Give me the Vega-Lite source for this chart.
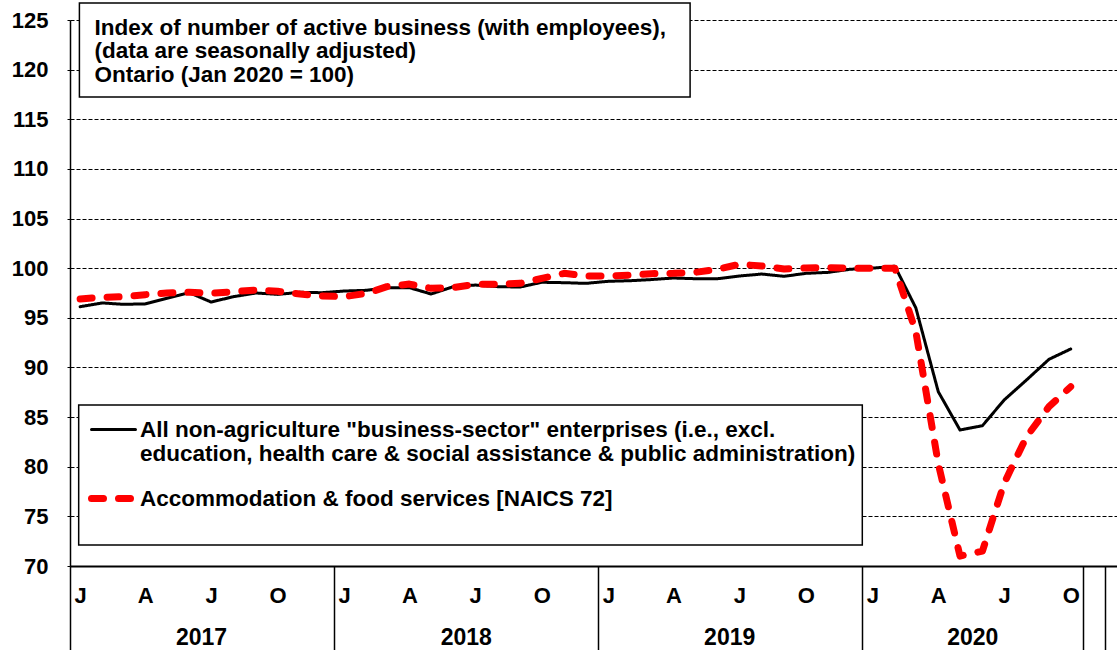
{
  "$schema": "https://vega.github.io/schema/vega-lite/v6.json",
  "width": 1047,
  "height": 546,
  "autosize": {"type": "none"},
  "padding": {"left": 70, "top": 20, "right": 0, "bottom": 84},
  "background": "white",
  "config": {
    "view": {"stroke": null},
    "font": "Liberation Sans",
    "axis": {"labelFont": "Liberation Sans", "labelFontWeight": "bold", "labelColor": "black", "title": null}
  },
  "data": {"values": [
    {"date": "2017-01-15", "series": "All non-agriculture \"business-sector\" enterprises (i.e., excl. education, health care & social assistance & public administration)", "value": 96.12},
    {"date": "2017-02-15", "series": "All non-agriculture \"business-sector\" enterprises (i.e., excl. education, health care & social assistance & public administration)", "value": 96.5},
    {"date": "2017-03-15", "series": "All non-agriculture \"business-sector\" enterprises (i.e., excl. education, health care & social assistance & public administration)", "value": 96.36},
    {"date": "2017-04-15", "series": "All non-agriculture \"business-sector\" enterprises (i.e., excl. education, health care & social assistance & public administration)", "value": 96.4},
    {"date": "2017-05-15", "series": "All non-agriculture \"business-sector\" enterprises (i.e., excl. education, health care & social assistance & public administration)", "value": 96.97},
    {"date": "2017-06-15", "series": "All non-agriculture \"business-sector\" enterprises (i.e., excl. education, health care & social assistance & public administration)", "value": 97.53},
    {"date": "2017-07-15", "series": "All non-agriculture \"business-sector\" enterprises (i.e., excl. education, health care & social assistance & public administration)", "value": 96.59},
    {"date": "2017-08-15", "series": "All non-agriculture \"business-sector\" enterprises (i.e., excl. education, health care & social assistance & public administration)", "value": 97.13},
    {"date": "2017-09-15", "series": "All non-agriculture \"business-sector\" enterprises (i.e., excl. education, health care & social assistance & public administration)", "value": 97.5},
    {"date": "2017-10-15", "series": "All non-agriculture \"business-sector\" enterprises (i.e., excl. education, health care & social assistance & public administration)", "value": 97.36},
    {"date": "2017-11-15", "series": "All non-agriculture \"business-sector\" enterprises (i.e., excl. education, health care & social assistance & public administration)", "value": 97.57},
    {"date": "2017-12-15", "series": "All non-agriculture \"business-sector\" enterprises (i.e., excl. education, health care & social assistance & public administration)", "value": 97.53},
    {"date": "2018-01-15", "series": "All non-agriculture \"business-sector\" enterprises (i.e., excl. education, health care & social assistance & public administration)", "value": 97.7},
    {"date": "2018-02-15", "series": "All non-agriculture \"business-sector\" enterprises (i.e., excl. education, health care & social assistance & public administration)", "value": 97.77},
    {"date": "2018-03-15", "series": "All non-agriculture \"business-sector\" enterprises (i.e., excl. education, health care & social assistance & public administration)", "value": 98.04},
    {"date": "2018-04-15", "series": "All non-agriculture \"business-sector\" enterprises (i.e., excl. education, health care & social assistance & public administration)", "value": 98.04},
    {"date": "2018-05-15", "series": "All non-agriculture \"business-sector\" enterprises (i.e., excl. education, health care & social assistance & public administration)", "value": 97.4},
    {"date": "2018-06-15", "series": "All non-agriculture \"business-sector\" enterprises (i.e., excl. education, health care & social assistance & public administration)", "value": 98.14},
    {"date": "2018-07-15", "series": "All non-agriculture \"business-sector\" enterprises (i.e., excl. education, health care & social assistance & public administration)", "value": 98.3},
    {"date": "2018-08-15", "series": "All non-agriculture \"business-sector\" enterprises (i.e., excl. education, health care & social assistance & public administration)", "value": 98.14},
    {"date": "2018-09-15", "series": "All non-agriculture \"business-sector\" enterprises (i.e., excl. education, health care & social assistance & public administration)", "value": 98.1},
    {"date": "2018-10-15", "series": "All non-agriculture \"business-sector\" enterprises (i.e., excl. education, health care & social assistance & public administration)", "value": 98.58},
    {"date": "2018-11-15", "series": "All non-agriculture \"business-sector\" enterprises (i.e., excl. education, health care & social assistance & public administration)", "value": 98.54},
    {"date": "2018-12-15", "series": "All non-agriculture \"business-sector\" enterprises (i.e., excl. education, health care & social assistance & public administration)", "value": 98.47},
    {"date": "2019-01-15", "series": "All non-agriculture \"business-sector\" enterprises (i.e., excl. education, health care & social assistance & public administration)", "value": 98.68},
    {"date": "2019-02-15", "series": "All non-agriculture \"business-sector\" enterprises (i.e., excl. education, health care & social assistance & public administration)", "value": 98.74},
    {"date": "2019-03-15", "series": "All non-agriculture \"business-sector\" enterprises (i.e., excl. education, health care & social assistance & public administration)", "value": 98.85},
    {"date": "2019-04-15", "series": "All non-agriculture \"business-sector\" enterprises (i.e., excl. education, health care & social assistance & public administration)", "value": 99.01},
    {"date": "2019-05-15", "series": "All non-agriculture \"business-sector\" enterprises (i.e., excl. education, health care & social assistance & public administration)", "value": 98.94},
    {"date": "2019-06-15", "series": "All non-agriculture \"business-sector\" enterprises (i.e., excl. education, health care & social assistance & public administration)", "value": 98.94},
    {"date": "2019-07-15", "series": "All non-agriculture \"business-sector\" enterprises (i.e., excl. education, health care & social assistance & public administration)", "value": 99.21},
    {"date": "2019-08-15", "series": "All non-agriculture \"business-sector\" enterprises (i.e., excl. education, health care & social assistance & public administration)", "value": 99.41},
    {"date": "2019-09-15", "series": "All non-agriculture \"business-sector\" enterprises (i.e., excl. education, health care & social assistance & public administration)", "value": 99.18},
    {"date": "2019-10-15", "series": "All non-agriculture \"business-sector\" enterprises (i.e., excl. education, health care & social assistance & public administration)", "value": 99.48},
    {"date": "2019-11-15", "series": "All non-agriculture \"business-sector\" enterprises (i.e., excl. education, health care & social assistance & public administration)", "value": 99.58},
    {"date": "2019-12-15", "series": "All non-agriculture \"business-sector\" enterprises (i.e., excl. education, health care & social assistance & public administration)", "value": 99.89},
    {"date": "2020-01-15", "series": "All non-agriculture \"business-sector\" enterprises (i.e., excl. education, health care & social assistance & public administration)", "value": 100.0},
    {"date": "2020-02-15", "series": "All non-agriculture \"business-sector\" enterprises (i.e., excl. education, health care & social assistance & public administration)", "value": 100.2},
    {"date": "2020-03-15", "series": "All non-agriculture \"business-sector\" enterprises (i.e., excl. education, health care & social assistance & public administration)", "value": 96.0},
    {"date": "2020-04-15", "series": "All non-agriculture \"business-sector\" enterprises (i.e., excl. education, health care & social assistance & public administration)", "value": 87.56},
    {"date": "2020-05-15", "series": "All non-agriculture \"business-sector\" enterprises (i.e., excl. education, health care & social assistance & public administration)", "value": 83.7},
    {"date": "2020-06-15", "series": "All non-agriculture \"business-sector\" enterprises (i.e., excl. education, health care & social assistance & public administration)", "value": 84.13},
    {"date": "2020-07-15", "series": "All non-agriculture \"business-sector\" enterprises (i.e., excl. education, health care & social assistance & public administration)", "value": 86.72},
    {"date": "2020-08-15", "series": "All non-agriculture \"business-sector\" enterprises (i.e., excl. education, health care & social assistance & public administration)", "value": 88.74},
    {"date": "2020-09-15", "series": "All non-agriculture \"business-sector\" enterprises (i.e., excl. education, health care & social assistance & public administration)", "value": 90.82},
    {"date": "2020-10-15", "series": "All non-agriculture \"business-sector\" enterprises (i.e., excl. education, health care & social assistance & public administration)", "value": 91.86},
    {"date": "2017-01-15", "series": "Accommodation & food services [NAICS 72]", "value": 96.9},
    {"date": "2017-02-15", "series": "Accommodation & food services [NAICS 72]", "value": 97.07},
    {"date": "2017-03-15", "series": "Accommodation & food services [NAICS 72]", "value": 97.13},
    {"date": "2017-04-15", "series": "Accommodation & food services [NAICS 72]", "value": 97.33},
    {"date": "2017-05-15", "series": "Accommodation & food services [NAICS 72]", "value": 97.5},
    {"date": "2017-06-15", "series": "Accommodation & food services [NAICS 72]", "value": 97.57},
    {"date": "2017-07-15", "series": "Accommodation & food services [NAICS 72]", "value": 97.47},
    {"date": "2017-08-15", "series": "Accommodation & food services [NAICS 72]", "value": 97.63},
    {"date": "2017-09-15", "series": "Accommodation & food services [NAICS 72]", "value": 97.8},
    {"date": "2017-10-15", "series": "Accommodation & food services [NAICS 72]", "value": 97.67},
    {"date": "2017-11-15", "series": "Accommodation & food services [NAICS 72]", "value": 97.4},
    {"date": "2017-12-15", "series": "Accommodation & food services [NAICS 72]", "value": 97.2},
    {"date": "2018-01-15", "series": "Accommodation & food services [NAICS 72]", "value": 97.13},
    {"date": "2018-02-15", "series": "Accommodation & food services [NAICS 72]", "value": 97.47},
    {"date": "2018-03-15", "series": "Accommodation & food services [NAICS 72]", "value": 98.14},
    {"date": "2018-04-15", "series": "Accommodation & food services [NAICS 72]", "value": 98.4},
    {"date": "2018-05-15", "series": "Accommodation & food services [NAICS 72]", "value": 97.97},
    {"date": "2018-06-15", "series": "Accommodation & food services [NAICS 72]", "value": 98.04},
    {"date": "2018-07-15", "series": "Accommodation & food services [NAICS 72]", "value": 98.37},
    {"date": "2018-08-15", "series": "Accommodation & food services [NAICS 72]", "value": 98.37},
    {"date": "2018-09-15", "series": "Accommodation & food services [NAICS 72]", "value": 98.47},
    {"date": "2018-10-15", "series": "Accommodation & food services [NAICS 72]", "value": 98.97},
    {"date": "2018-11-15", "series": "Accommodation & food services [NAICS 72]", "value": 99.48},
    {"date": "2018-12-15", "series": "Accommodation & food services [NAICS 72]", "value": 99.21},
    {"date": "2019-01-15", "series": "Accommodation & food services [NAICS 72]", "value": 99.21},
    {"date": "2019-02-15", "series": "Accommodation & food services [NAICS 72]", "value": 99.31},
    {"date": "2019-03-15", "series": "Accommodation & food services [NAICS 72]", "value": 99.45},
    {"date": "2019-04-15", "series": "Accommodation & food services [NAICS 72]", "value": 99.48},
    {"date": "2019-05-15", "series": "Accommodation & food services [NAICS 72]", "value": 99.58},
    {"date": "2019-06-15", "series": "Accommodation & food services [NAICS 72]", "value": 99.89},
    {"date": "2019-07-15", "series": "Accommodation & food services [NAICS 72]", "value": 100.39},
    {"date": "2019-08-15", "series": "Accommodation & food services [NAICS 72]", "value": 100.22},
    {"date": "2019-09-15", "series": "Accommodation & food services [NAICS 72]", "value": 99.92},
    {"date": "2019-10-15", "series": "Accommodation & food services [NAICS 72]", "value": 100.02},
    {"date": "2019-11-15", "series": "Accommodation & food services [NAICS 72]", "value": 100.05},
    {"date": "2019-12-15", "series": "Accommodation & food services [NAICS 72]", "value": 100.0},
    {"date": "2020-01-15", "series": "Accommodation & food services [NAICS 72]", "value": 100.0},
    {"date": "2020-02-15", "series": "Accommodation & food services [NAICS 72]", "value": 100.0},
    {"date": "2020-03-15", "series": "Accommodation & food services [NAICS 72]", "value": 93.6},
    {"date": "2020-04-15", "series": "Accommodation & food services [NAICS 72]", "value": 80.3},
    {"date": "2020-05-15", "series": "Accommodation & food services [NAICS 72]", "value": 71.0},
    {"date": "2020-06-15", "series": "Accommodation & food services [NAICS 72]", "value": 71.5},
    {"date": "2020-07-15", "series": "Accommodation & food services [NAICS 72]", "value": 78.33},
    {"date": "2020-08-15", "series": "Accommodation & food services [NAICS 72]", "value": 83.03},
    {"date": "2020-09-15", "series": "Accommodation & food services [NAICS 72]", "value": 86.05},
    {"date": "2020-10-15", "series": "Accommodation & food services [NAICS 72]", "value": 88.06}
  ]},
  "layer": [
    {
      "data": {"values": [{}]},
      "mark": {"type": "rect", "fill": "white", "stroke": "black", "strokeWidth": 1.5},
      "encoding": {
        "x": {
          "datum": {"year": 2017, "month": 1, "date": 14, "utc": true}, "type": "temporal",
          "scale": {"type": "utc", "domain": [{"year": 2017, "month": 1, "date": 1, "utc": true}, {"year": 2020, "month": 12, "date": 18, "utc": true}]},
          "axis": {
            "orient": "bottom", "title": null,
            "values": [{"year": 2017, "month": 7, "date": 1, "utc": true}, {"year": 2018, "month": 7, "date": 2, "utc": true}, {"year": 2019, "month": 7, "date": 1, "utc": true}, {"year": 2020, "month": 6, "date": 1, "utc": true}],
            "labelExpr": "utcFormat(datum.value, '%Y')",
            "ticks": false, "tickSize": 0, "grid": false, "domain": false,
            "labelFontSize": 23, "labelPadding": 60, "labelBaseline": "top", "labelAlign": "center",
            "labelFlush": false, "labelOverlap": false, "labelBound": false
          }
        },
        "x2": {"datum": {"year": 2019, "month": 5, "date": 8, "utc": true}},
        "y": {
          "datum": 126.7, "type": "quantitative",
          "scale": {"domain": [70, 125], "nice": false, "zero": false},
          "axis": {
            "title": null, "values": [70, 75, 80, 85, 90, 95, 100, 105, 110, 115, 120, 125],
            "grid": true, "gridDash": [4, 2], "gridColor": "black", "gridWidth": 1, "gridOpacity": 1,
            "domainColor": "black", "domainWidth": 1.5, "tickColor": "black", "tickSize": 3, "tickWidth": 1,
            "labelFontSize": 22, "labelPadding": 19, "labelFlush": false, "labelOverlap": false
          }
        },
        "y2": {"datum": 117.24}
      }
    },
    {
      "data": {"values": [{}]},
      "mark": {"type": "rect", "fill": "white", "stroke": "black", "strokeWidth": 1.5},
      "encoding": {
        "x": {
          "datum": {"year": 2017, "month": 1, "date": 13, "utc": true}, "type": "temporal",
          "scale": {"type": "utc", "domain": [{"year": 2017, "month": 1, "date": 1, "utc": true}, {"year": 2020, "month": 12, "date": 18, "utc": true}]},
          "axis": null
        },
        "x2": {"datum": {"year": 2020, "month": 1, "date": 1, "utc": true}},
        "y": {
          "datum": 86.22, "type": "quantitative",
          "scale": {"domain": [70, 125], "nice": false, "zero": false},
          "axis": {
            "title": null, "values": [70, 75, 80, 85, 90, 95, 100, 105, 110, 115, 120, 125],
            "grid": true, "gridDash": [4, 2], "gridColor": "black", "gridWidth": 1, "gridOpacity": 1,
            "domainColor": "black", "domainWidth": 1.5, "tickColor": "black", "tickSize": 3, "tickWidth": 1,
            "labelFontSize": 22, "labelPadding": 19, "labelFlush": false, "labelOverlap": false
          }
        },
        "y2": {"datum": 72.11}
      }
    },
    {
      "mark": {"type": "line", "strokeCap": "round", "strokeJoin": "round"},
      "encoding": {
        "x": {
          "field": "date", "type": "temporal",
          "scale": {"type": "utc", "domain": [{"year": 2017, "month": 1, "date": 1, "utc": true}, {"year": 2020, "month": 12, "date": 18, "utc": true}]},
          "axis": {
            "orient": "bottom", "title": null,
            "values": [
              {"year": 2017, "month": 1, "date": 15, "utc": true}, {"year": 2017, "month": 4, "date": 15, "utc": true}, {"year": 2017, "month": 7, "date": 15, "utc": true}, {"year": 2017, "month": 10, "date": 15, "utc": true},
              {"year": 2018, "month": 1, "date": 15, "utc": true}, {"year": 2018, "month": 4, "date": 15, "utc": true}, {"year": 2018, "month": 7, "date": 15, "utc": true}, {"year": 2018, "month": 10, "date": 15, "utc": true},
              {"year": 2019, "month": 1, "date": 15, "utc": true}, {"year": 2019, "month": 4, "date": 15, "utc": true}, {"year": 2019, "month": 7, "date": 15, "utc": true}, {"year": 2019, "month": 10, "date": 15, "utc": true},
              {"year": 2020, "month": 1, "date": 15, "utc": true}, {"year": 2020, "month": 4, "date": 15, "utc": true}, {"year": 2020, "month": 7, "date": 15, "utc": true}, {"year": 2020, "month": 10, "date": 15, "utc": true}
            ],
            "labelExpr": "slice(utcFormat(datum.value, '%b'), 0, 1)",
            "ticks": false, "tickSize": 0, "grid": false,
            "domain": true, "domainColor": "black", "domainWidth": 2,
            "labelFontSize": 22, "labelPadding": 19, "labelBaseline": "top", "labelAlign": "center",
            "labelFlush": false, "labelOverlap": false, "labelBound": false
          }
        },
        "y": {
          "field": "value", "type": "quantitative",
          "scale": {"domain": [70, 125], "nice": false, "zero": false},
          "axis": {
            "title": null, "values": [70, 75, 80, 85, 90, 95, 100, 105, 110, 115, 120, 125],
            "grid": true, "gridDash": [4, 2], "gridColor": "black", "gridWidth": 1, "gridOpacity": 1,
            "domainColor": "black", "domainWidth": 1.5, "tickColor": "black", "tickSize": 3, "tickWidth": 1,
            "labelFontSize": 22, "labelPadding": 19, "labelFlush": false, "labelOverlap": false
          }
        },
        "color": {
          "field": "series", "type": "nominal",
          "scale": {"domain": ["All non-agriculture \"business-sector\" enterprises (i.e., excl. education, health care & social assistance & public administration)", "Accommodation & food services [NAICS 72]"], "range": ["#000000", "#ff0000"]},
          "legend": {
            "title": null, "orient": "none", "legendX": 18, "legendY": 386, "direction": "vertical",
            "symbolType": "stroke", "symbolSize": 1936,
            "labelFont": "Liberation Sans", "labelFontSize": 22.5, "labelFontWeight": "bold", "labelColor": "black",
            "labelLimit": 1000, "labelOffset": 1, "labelBaseline": "top", "rowPadding": 7, "padding": 0,
            "labelExpr": "indexof(datum.label, ' education') > 0 ? [slice(datum.label, 0, indexof(datum.label, ' education')), slice(datum.label, indexof(datum.label, ' education') + 1)] : datum.label",
            "encoding": {"labels": {"dy": {"value": -11}}, "symbols": {"strokeCap": {"value": "round"}}}
          }
        },
        "strokeDash": {
          "field": "series", "type": "nominal",
          "scale": {"domain": ["All non-agriculture \"business-sector\" enterprises (i.e., excl. education, health care & social assistance & public administration)", "Accommodation & food services [NAICS 72]"], "range": [[1, 0], [12, 15]]},
          "legend": {
            "title": null, "orient": "none", "legendX": 18, "legendY": 386, "direction": "vertical",
            "symbolType": "stroke", "symbolSize": 1936,
            "labelFont": "Liberation Sans", "labelFontSize": 22.5, "labelFontWeight": "bold", "labelColor": "black",
            "labelLimit": 1000, "labelOffset": 1, "labelBaseline": "top", "rowPadding": 7, "padding": 0,
            "labelExpr": "indexof(datum.label, ' education') > 0 ? [slice(datum.label, 0, indexof(datum.label, ' education')), slice(datum.label, indexof(datum.label, ' education') + 1)] : datum.label",
            "encoding": {"labels": {"dy": {"value": -11}}, "symbols": {"strokeCap": {"value": "round"}}}
          }
        },
        "strokeWidth": {
          "field": "series", "type": "ordinal",
          "scale": {"domain": ["All non-agriculture \"business-sector\" enterprises (i.e., excl. education, health care & social assistance & public administration)", "Accommodation & food services [NAICS 72]"], "range": [3, 7]},
          "legend": {
            "title": null, "orient": "none", "legendX": 18, "legendY": 386, "direction": "vertical",
            "symbolType": "stroke", "symbolSize": 1936,
            "labelFont": "Liberation Sans", "labelFontSize": 22.5, "labelFontWeight": "bold", "labelColor": "black",
            "labelLimit": 1000, "labelOffset": 1, "labelBaseline": "top", "rowPadding": 7, "padding": 0,
            "labelExpr": "indexof(datum.label, ' education') > 0 ? [slice(datum.label, 0, indexof(datum.label, ' education')), slice(datum.label, indexof(datum.label, ' education') + 1)] : datum.label",
            "encoding": {"labels": {"dy": {"value": -11}}, "symbols": {"strokeCap": {"value": "round"}}}
          }
        }
      }
    },
    {
      "data": {"values": [{}]},
      "mark": {"type": "text", "align": "left", "baseline": "alphabetic", "fontSize": 22.5, "fontWeight": "bold", "font": "Liberation Sans", "lineHeight": 23.5, "color": "black"},
      "encoding": {
        "x": {
          "datum": {"year": 2017, "month": 2, "date": 4, "utc": true}, "type": "temporal",
          "scale": {"type": "utc", "domain": [{"year": 2017, "month": 1, "date": 1, "utc": true}, {"year": 2020, "month": 12, "date": 18, "utc": true}]},
          "axis": {
            "orient": "bottom", "title": null,
            "values": [{"year": 2017, "month": 1, "date": 1, "utc": true}, {"year": 2018, "month": 1, "date": 1, "utc": true}, {"year": 2019, "month": 1, "date": 1, "utc": true}, {"year": 2020, "month": 1, "date": 1, "utc": true}, {"year": 2020, "month": 11, "date": 1, "utc": true}, {"year": 2020, "month": 12, "date": 1, "utc": true}],
            "labels": false, "ticks": true, "tickSize": 84, "tickColor": "black", "tickWidth": 1.5,
            "domain": false, "grid": false
          }
        },
        "y": {
          "datum": 123.5, "type": "quantitative",
          "scale": {"domain": [70, 125], "nice": false, "zero": false},
          "axis": {
            "title": null, "values": [70, 75, 80, 85, 90, 95, 100, 105, 110, 115, 120, 125],
            "grid": true, "gridDash": [4, 2], "gridColor": "black", "gridWidth": 1, "gridOpacity": 1,
            "domainColor": "black", "domainWidth": 1.5, "tickColor": "black", "tickSize": 3, "tickWidth": 1,
            "labelFontSize": 22, "labelPadding": 19, "labelFlush": false, "labelOverlap": false
          }
        },
        "text": {"value": ["Index of number of active business (with employees),", "(data are seasonally adjusted)", " Ontario (Jan 2020 = 100)"]}
      }
    }
  ],
  "resolve": {"axis": {"x": "independent"}}
}
